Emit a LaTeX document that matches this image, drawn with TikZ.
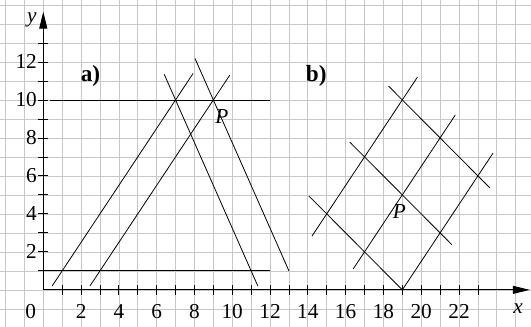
\documentclass[tikz,border=0pt]{standalone}
\usepackage{fontspec}
\setmainfont{Liberation Serif}
\usetikzlibrary{arrows.meta}
\begin{document}
\begin{tikzpicture}[x=0.5cm,y=0.5026cm,
  gridline/.style={black!22, line width=0.5pt},
  geo/.style={line width=0.6pt},
  axisline/.style={line width=0.8pt, -{Triangle[length=0.45cm,width=0.21cm]}},
  tickmark/.style={line width=0.6pt},
  lbl/.style={font=\fontsize{16pt}{16pt}\selectfont, inner sep=0pt},
  partlbl/.style={font=\fontsize{17.5pt}{17.5pt}\selectfont\bfseries, inner sep=0pt},
  ptlbl/.style={font=\fontsize{16pt}{16pt}\selectfont\itshape, inner sep=0pt}]
\useasboundingbox (-2.29,-1.95) rectangle (25.81,15.26);
\draw[gridline, xstep=0.5cm, ystep=0.5026cm] (-2.29,-1.95) grid (25.81,15.26);
% axes
\coordinate (O) at (0,0);
\coordinate (xend) at (25.75,0);
\coordinate (yend) at (0,14.65);
\draw[axisline] (O) -- (xend);
\draw[axisline] (O) -- (yend);
\foreach \i in {1,...,23} \draw[tickmark] (\i,-0.25) -- (\i,0.25);
\foreach \j in {1,...,13} \draw[tickmark] (-0.27,\j) -- (0.25,\j);
\node[lbl] (x0) at (-0.67,-1.12) {0};
\foreach \i in {2,4,...,22} \node[lbl] (xl\i) at (\i,-1.12) {\i};
\foreach \j in {2,4,...,12} \node[lbl, anchor=east] (yl\j) at (-0.33,\j) {\j};
\node[ptlbl] (xname) at (25.13,-1.0) {x};
\node[ptlbl] (yname) at (-0.6,14.2) {y};
% part a
\node[partlbl] (la) at (2.5,11.25) {a)};
\coordinate (h1a) at (0.35,10); \coordinate (h1b) at (12,10);
\coordinate (h2a) at (0,1);     \coordinate (h2b) at (12,1);
\coordinate (a1s) at (0.47,0.205); \coordinate (a1e) at (7.93,11.395);
\coordinate (a2s) at (2.47,0.205); \coordinate (a2e) at (9.87,11.305);
\coordinate (a3s) at (6.4,11.35);  \coordinate (a3e) at (11.36,0.19);
\coordinate (a4s) at (8.03,12.18); \coordinate (a4e) at (13,1);
\draw[geo] (h1a) -- (h1b);
\draw[geo] (h2a) -- (h2b);
\draw[geo] (a1s) -- (a1e);
\draw[geo] (a2s) -- (a2e);
\draw[geo] (a3s) -- (a3e);
\draw[geo] (a4s) -- (a4e);
\node[ptlbl] (Pa) at (9.45,9.1) {P};
% part b
\node[partlbl] (lb) at (14.45,11.27) {b)};
\coordinate (apex) at (19,0);
\coordinate (b1e) at (23.8,7.2);
\coordinate (b2e) at (14.05,4.95);
\coordinate (b3s) at (14.22,2.83); \coordinate (b3e) at (19.8,11.2);
\coordinate (b4s) at (16.4,1.1);   \coordinate (b4e) at (21.8,9.2);
\coordinate (b5s) at (16.22,7.78); \coordinate (b5e) at (21.62,2.38);
\coordinate (b6s) at (18.27,10.73); \coordinate (b6e) at (23.63,5.37);
\draw[geo] (apex) -- (b1e);
\draw[geo] (apex) -- (b2e);
\draw[geo] (b3s) -- (b3e);
\draw[geo] (b4s) -- (b4e);
\draw[geo] (b5s) -- (b5e);
\draw[geo] (b6s) -- (b6e);
\node[ptlbl] (Pb) at (18.85,4.12) {P};
\end{tikzpicture}
\end{document}
